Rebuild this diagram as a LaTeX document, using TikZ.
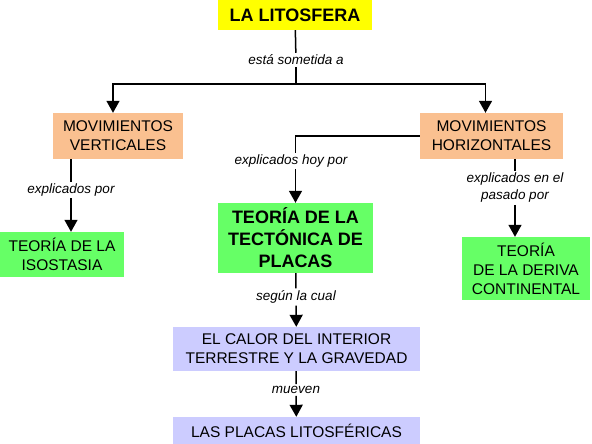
\documentclass[tikz,border=0pt]{standalone}
\usepackage{fontspec}
\setmainfont{Liberation Sans}
\usetikzlibrary{positioning}
\usetikzlibrary{arrows.meta}
\definecolor{litoyellow}{RGB}{255,255,0}
\definecolor{movorange}{RGB}{250,192,144}
\definecolor{teogreen}{RGB}{102,255,102}
\definecolor{causeblue}{RGB}{204,204,255}
\tikzset{
box/.style={inner sep=0pt, align=center, font=\fontsize{15.5}{19}\selectfont},
bigbox/.style={inner sep=0pt, align=center, font=\fontsize{18}{22}\selectfont\bfseries},
lbl/.style={inner sep=2pt, align=center, font=\fontsize{13.5}{17}\selectfont\itshape},
conn/.style={line width=1.5pt},
arrowconn/.style={line width=1.5pt, -{Triangle[length=12pt,width=13pt]}},
}

\begin{document}
\begin{tikzpicture}[x=1pt, y=-1pt]
\useasboundingbox (0,0) rectangle (592,444);

\node[bigbox, fill=litoyellow, minimum width=154pt, minimum height=30pt] (lito) at (295,15) {LA LITOSFERA};
\node[box, fill=movorange, minimum width=130pt, minimum height=46pt] (vert) at (118,136) {MOVIMIENTOS\\VERTICALES};
\node[box, fill=movorange, minimum width=143pt, minimum height=46pt] (horiz) at (491.5,136) {MOVIMIENTOS\\HORIZONTALES};
\node[box, fill=teogreen, minimum width=124pt, minimum height=45pt] (iso) at (62,254.5) {TEORÍA DE LA\\ISOSTASIA};
\node[bigbox, fill=teogreen, minimum width=155pt, minimum height=70pt] (tect) at (295.5,238) {TEORÍA DE LA\\TECTÓNICA DE\\PLACAS};
\node[box, fill=teogreen, minimum width=128pt, minimum height=63pt] (der) at (526,268.5) {TEORÍA\\DE LA DERIVA\\CONTINENTAL};
\node[box, fill=causeblue, minimum width=247pt, minimum height=44pt] (calor) at (296.5,349) {EL CALOR DEL INTERIOR\\TERRESTRE Y LA GRAVEDAD};
\node[box, fill=causeblue, minimum width=247pt, minimum height=27pt] (placas) at (296.5,430.5) {LAS PLACAS LITOSFÉRICAS};

\node[lbl] (lsom) at (296,60) {está sometida a};
\node[lbl] (lpor) at (71,190) {explicados por};
\node[lbl] (lhoy) at (291,161) {explicados hoy por};
\node[lbl] (lpas) at (515,188) {explicados en el\\pasado por};
\node[lbl] (lseg) at (296,297) {según la cual};
\node[lbl] (lmue) at (296,390) {mueven};
\coordinate (j) at (296,84);

% la litosfera
\draw[conn] (lito) -- (lsom);
\draw[conn] (lsom) -- (j);
\draw[arrowconn] (j) -| ([xshift=-5pt]vert.north);
\draw[arrowconn] (j) -| ([xshift=-6pt]horiz.north);

% movimientos verticales
\draw[conn] (vert.south -| lpor.north) -- (lpor.north);
\draw[arrowconn] (lpor.south) -- (lpor.south |- iso.north);

% movimientos horizontales
\draw[conn] (horiz.west) -| (lhoy.north -| tect.north);
\draw[arrowconn] (lhoy.south -| tect.north) -- (tect.north);
\draw[conn] (horiz.south -| lpas.north) -- (lpas.north);
\draw[arrowconn] (lpas.south) -- (lpas.south |- der.north);

% tectonica de placas
\draw[conn] (tect) -- (lseg);
\draw[arrowconn] (lseg) -- (calor);
\draw[conn] (calor) -- (lmue);
\draw[arrowconn] (lmue) -- (placas);
\end{tikzpicture}
\end{document}
